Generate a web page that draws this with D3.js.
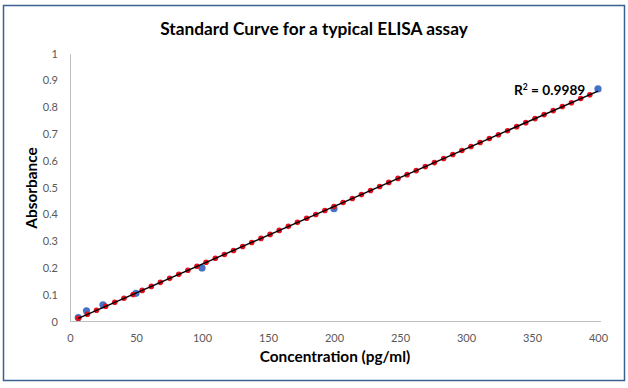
<!DOCTYPE html>
<html>
<head>
<meta charset="utf-8">
<script src="https://cdn.jsdelivr.net/npm/d3@7"></script>
<style>
  html, body { margin: 0; padding: 0; background: #fff; }
  svg { display: block; }
  text { font-family: Lato, "Open Sans", sans-serif; }
</style>
</head>
<body>
<svg id="chart" width="628" height="388"></svg>
<script>
// Standards (blue)
const stdConc = [6.25, 12.5, 25, 50, 100, 200, 400];
const stdAbs  = [0.015, 0.040, 0.062, 0.105, 0.200, 0.421, 0.868];

// Fitted points (red)
const fitConc = [6.3, 13.2, 20.1, 27.0, 33.9, 40.9, 47.8, 54.7, 61.6, 68.5, 75.5, 82.4, 89.3, 96.2,
  103.1, 110.1, 117.0, 123.9, 130.8, 137.7, 144.7, 151.6, 158.5, 165.4, 172.3, 179.3, 186.2, 193.1,
  200.0, 206.9, 213.9, 220.8, 227.7, 234.6, 241.5, 248.5, 255.4, 262.3, 269.2, 276.1, 283.1, 290.0,
  296.9, 303.8, 310.7, 317.7, 324.6, 331.5, 338.4, 345.3, 352.3, 359.2, 366.1, 373.0, 379.9, 386.9, 393.8];
const fitAbs = [0.012, 0.027, 0.042, 0.057, 0.072, 0.087, 0.101, 0.116, 0.131, 0.146, 0.161, 0.176, 0.191, 0.206,
  0.221, 0.236, 0.250, 0.265, 0.280, 0.295, 0.310, 0.325, 0.340, 0.355, 0.370, 0.385, 0.399, 0.414,
  0.429, 0.444, 0.459, 0.474, 0.489, 0.504, 0.519, 0.534, 0.548, 0.563, 0.578, 0.593, 0.608, 0.623,
  0.638, 0.653, 0.668, 0.683, 0.697, 0.712, 0.727, 0.742, 0.757, 0.772, 0.787, 0.802, 0.816, 0.832, 0.846];

// Trendline endpoints
const trendConc = [6.25, 400];
const trendAbs  = [0.012, 0.860];

const xTicks = [0, 50, 100, 150, 200, 250, 300, 350, 400];
const yTicks = [0, 0.1, 0.2, 0.3, 0.4, 0.5, 0.6, 0.7, 0.8, 0.9, 1];

const titleText = "Standard Curve for a typical ELISA assay";
const xTitle = "Concentration (pg/ml)";
const yTitle = "Absorbance";
const r2Text = "0.9989";

const svg = d3.select("#chart");

// outer border
svg.append("rect").attr("x", 3.5).attr("y", 5.5).attr("width", 621).attr("height", 375)
  .attr("fill", "#fff").attr("stroke", "#3b6191").attr("stroke-width", 1.5);

const x = d3.scaleLinear().domain([0, 400]).range([70, 598]);
const y = d3.scaleLinear().domain([0, 1]).range([321.5, 53.5]);

// axes
const xAxis = d3.axisBottom(x).tickValues(xTicks).tickSize(0).tickFormat(d3.format("d"));
const gx = svg.append("g").attr("transform", "translate(0,321.5)").call(xAxis);
gx.select(".domain").attr("stroke", "#bfbfbf").attr("d", "M70,0H601");
gx.selectAll("text").attr("dy", 0).attr("y", 20).attr("fill", "#595959").style("font-size", "11px")
  .style("font-family", "Lato, sans-serif");

const yAxis = d3.axisLeft(y).tickValues(yTicks).tickSize(0).tickFormat(d => d3.format("")(+d.toFixed(1)));
const gy = svg.append("g").attr("transform", "translate(70,0)").call(yAxis);
gy.select(".domain").attr("stroke", "#bfbfbf");
gy.selectAll("text").attr("x", -12).attr("fill", "#595959").style("font-size", "11px")
  .style("font-family", "Lato, sans-serif");

// blue standards
svg.append("g").selectAll("circle").data(stdConc).join("circle")
  .attr("cx", (d) => x(d)).attr("cy", (d, i) => y(stdAbs[i])).attr("r", 3.6)
  .attr("fill", "#4472c4");

// red fitted points
svg.append("g").selectAll("circle").data(fitConc).join("circle")
  .attr("cx", (d) => x(d)).attr("cy", (d, i) => y(fitAbs[i])).attr("r", 2.8)
  .attr("fill", "#e3101c");

// trendline
const line = d3.line().x(d => x(d[0])).y(d => y(d[1]));
svg.append("path").datum(trendConc.map((c, i) => [c, trendAbs[i]]))
  .attr("d", line).attr("fill", "none").attr("stroke", "#000").attr("stroke-width", 1.4);

// title
svg.append("text").attr("x", 314).attr("y", 35).attr("text-anchor", "middle")
  .style("font-size", "17.3px").style("font-weight", "bold").attr("fill", "#000").text(titleText);

// axis titles
svg.append("text").attr("x", 335).attr("y", 362).attr("text-anchor", "middle")
  .style("font-size", "15.4px").style("font-weight", "bold").attr("fill", "#000").text(xTitle);
svg.append("text").attr("transform", "translate(37,188) rotate(-90)").attr("text-anchor", "middle")
  .style("font-size", "15.4px").style("font-weight", "bold").attr("fill", "#000").text(yTitle);

// R² label
const r2 = svg.append("text").attr("x", 514).attr("y", 95)
  .style("font-size", "13.7px").style("font-weight", "bold").attr("fill", "#000");
r2.append("tspan").text("R");
r2.append("tspan").attr("dy", -5).style("font-size", "8.5px").text("2");
r2.append("tspan").attr("dy", 5).text(" = " + r2Text);
</script>
</body>
</html>
